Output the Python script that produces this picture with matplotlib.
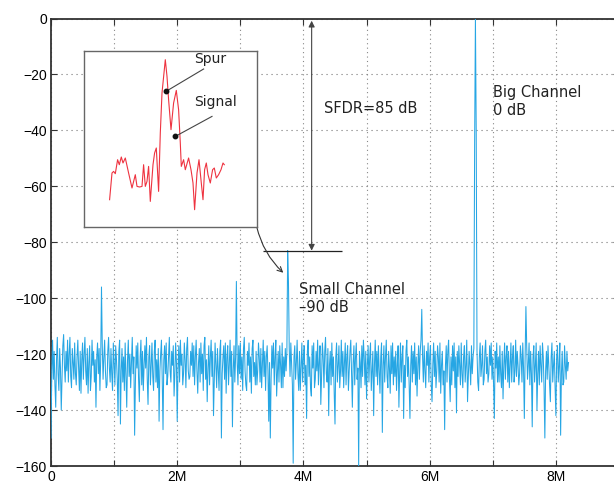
import numpy as np
import matplotlib
matplotlib.use("Agg")
import matplotlib.pyplot as plt
from matplotlib.ticker import MultipleLocator, FuncFormatter

# ---------------- data ----------------
freq_step_hz = 12.5e3
spectrum_db = [
    -150, -126, -115, -129, -119, -131, -139, -122, -114, -127, -133, -118, -125, -140, -128, -117, -113, -124, -130, -119,
    -126, -115, -130, -120, -114, -128, -132, -118, -123, -129, -116, -127, -131, -121, -115, -125, -133, -119, -134, -122,
    -116, -129, -120, -114, -126, -131, -118, -134, -123, -117, -133, -128, -115, -124, -119, -130, -122, -139, -121, -116,
    -127, -118, -133, -122, -96, -117, -129, -121, -115, -126, -132, -131, -119, -114, -125, -130, -118, -127, -133, -116,
    -124, -131, -117, -122, -129, -142, -119, -115, -145, -126, -118, -130, -121, -133, -116, -127, -139, -122, -115, -128,
    -120, -132, -123, -114, -127, -121, -149, -130, -117, -125, -116, -129, -137, -121, -115, -131, -119, -133, -124, -117,
    -125, -114, -129, -138, -121, -117, -131, -124, -116, -128, -133, -119, -115, -130, -122, -132, -118, -144, -126, -120,
    -115, -129, -147, -122, -117, -127, -116, -131, -128, -121, -114, -126, -130, -119, -124, -117, -135, -127, -116, -123,
    -144, -125, -117, -130, -115, -124, -120, -131, -127, -116, -122, -132, -118, -114, -126, -129, -128, -119, -124, -116,
    -128, -117, -131, -121, -115, -126, -134, -123, -118, -130, -116, -127, -120, -133, -117, -114, -129, -122, -137, -125,
    -117, -131, -121, -115, -128, -119, -142, -129, -116, -124, -132, -118, -126, -133, -119, -115, -150, -127, -121, -117,
    -129, -116, -134, -121, -117, -131, -124, -115, -128, -119, -146, -126, -117, -130, -121, -94, -123, -131, -117, -127,
    -116, -129, -121, -133, -118, -114, -126, -131, -133, -119, -124, -116, -130, -121, -134, -118, -115, -128, -123, -131,
    -119, -131, -126, -116, -121, -130, -118, -132, -124, -115, -128, -119, -133, -121, -117, -126, -144, -123, -150, -129,
    -117, -125, -116, -131, -121, -115, -135, -127, -119, -130, -117, -124, -132, -116, -132, -121, -128, -118, -126, -119,
    -83, -94, -118, -128, -116, -124, -131, -159, -121, -117, -129, -123, -115, -127, -133, -119, -133, -124, -116, -130,
    -121, -117, -131, -124, -143, -119, -115, -128, -121, -132, -135, -117, -125, -116, -132, -129, -119, -126, -115, -131,
    -123, -117, -138, -128, -116, -121, -132, -119, -114, -127, -130, -118, -142, -124, -119, -131, -116, -128, -121, -134,
    -145, -121, -116, -130, -124, -117, -132, -126, -115, -128, -119, -132, -123, -116, -131, -121, -117, -133, -126, -119,
    -115, -127, -139, -123, -117, -131, -121, -116, -129, -125, -160, -119, -123, -132, -117, -128, -115, -121, -131, -119,
    -136, -124, -117, -130, -121, -116, -133, -126, -119, -142, -124, -115, -128, -119, -131, -117, -126, -134, -121, -116,
    -148, -124, -117, -130, -121, -115, -128, -132, -119, -125, -134, -117, -127, -116, -131, -121, -128, -119, -133, -124,
    -117, -139, -126, -116, -130, -121, -117, -143, -124, -132, -119, -115, -128, -121, -131, -143, -124, -117, -130, -119,
    -127, -116, -131, -121, -135, -124, -117, -129, -119, -115, -104, -121, -130, -117, -126, -132, -119, -124, -116, -130,
    -121, -117, -131, -137, -124, -116, -128, -119, -132, -126, -117, -121, -130, -116, -134, -124, -119, -131, -126, -147,
    -124, -117, -130, -119, -115, -128, -137, -121, -131, -117, -126, -116, -132, -121, -141, -119, -128, -117, -124, -131,
    -116, -127, -132, -121, -117, -130, -124, -115, -137, -128, -119, -124, -131, -117, -127, -121, -118, -45, 0, -40,
    -119, -130, -133, -121, -116, -128, -124, -117, -131, -129, -119, -115, -127, -121, -130, -127, -117, -124, -116, -129,
    -121, -131, -143, -119, -125, -116, -130, -121, -130, -117, -127, -132, -119, -136, -124, -116, -129, -121, -117, -130,
    -119, -132, -124, -116, -130, -121, -117, -130, -126, -115, -128, -119, -124, -131, -127, -117, -121, -130, -116, -125,
    -143, -121, -103, -117, -129, -124, -116, -131, -119, -127, -146, -121, -117, -130, -124, -116, -140, -127, -119, -131,
    -117, -124, -130, -116, -121, -132, -150, -126, -119, -129, -117, -124, -131, -137, -121, -116, -130, -124, -119, -132,
    -142, -121, -117, -130, -124, -116, -149, -127, -119, -131, -130, -117, -124, -129, -119, -126, -123,
]
freq_hz = np.arange(len(spectrum_db)) * freq_step_hz

# inset (zoomed view of spur + signal), arbitrary units
inset_x = [25.3, 27.7, 29.3, 31, 33.3, 35, 37, 38.7, 41, 44.3, 47.7, 51, 52.7, 55.3,
           57.7, 59.3, 61, 62.7, 64.3, 66, 68.7, 70.3, 72, 74.3, 76, 77.7, 81, 82.7,
           84.3, 86.7, 89.3, 92, 94.3, 96, 97, 99.3, 101, 104.3, 106.7, 108.7, 110.3,
           112.7, 114.7, 117, 118.7, 120.3, 122, 123.7, 126, 128.3, 130, 132, 134.3,
           136.7, 138.7, 140]
inset_level = [-149, -122.3, -120.7, -123, -109, -114, -106.3, -112.3, -107.3, -122.3,
               -137.3, -124, -135.7, -136.3, -135.7, -114, -135.7, -130.7, -115.7, -150.7,
               -114, -102.3, -97.3, -140.7, -82.3, -42.3, -9, -25.7, -49, -79, -52.3,
               -39.7, -59, -92.3, -115.7, -109, -119, -107.3, -119, -132.3, -159, -122.3,
               -109, -132.3, -149, -119, -112.3, -124, -132.3, -119, -117.3, -127.3, -124,
               -119, -112.3, -114]

x_ticks_hz = [0, 2e6, 4e6, 6e6, 8e6]
x_tick_labels = ["0", "2M", "4M", "6M", "8M"]

big_channel_db = 0
small_channel_db = -83
sfdr_x_hz = 4.13e6

# ---------------- figure ----------------
fig = plt.figure(figsize=(6.14, 4.84), dpi=100)
ax = fig.add_axes([51 / 614, 1 - 466 / 484, (619 - 51) / 614, (466 - 18.5) / 484])

ax.plot(freq_hz, spectrum_db, color="#26a6e4", lw=0.75, zorder=3)

ax.set_xlim(0, 9e6)
ax.set_ylim(-160, 0)
ax.set_xticks(x_ticks_hz)
ax.set_xticklabels(x_tick_labels)
ax.xaxis.set_minor_locator(MultipleLocator(1e6))
ax.yaxis.set_major_locator(MultipleLocator(20))
ax.yaxis.set_major_formatter(FuncFormatter(lambda v, p: f"{int(v)}".replace("-", "\u2212")))

ax.grid(which="both", axis="x", linestyle=(0, (1, 3)), color="#888888", lw=0.8)
ax.grid(which="major", axis="y", linestyle=(0, (1, 3.5)), color="#777777", lw=0.8)
ax.set_axisbelow(True)

ax.tick_params(which="both", direction="in", top=True, right=True, length=4,
               width=0.8, color="#333333", labelsize=10, pad=3)
for lab in ax.get_xticklabels() + ax.get_yticklabels():
    lab.set_fontfamily("Liberation Sans")
for sp in ax.spines.values():
    sp.set_color("#333333")
    sp.set_linewidth(1.3)

# SFDR marker line + double arrow
ax.hlines(small_channel_db, 3.355e6, 4.607e6, color="#222222", lw=0.9, zorder=4)
ax.annotate("", xy=(sfdr_x_hz, big_channel_db - 0.8), xytext=(sfdr_x_hz, small_channel_db),
            arrowprops=dict(arrowstyle="<|-|>", color="#444444", lw=0.8,
                            mutation_scale=9, shrinkA=0, shrinkB=0), zorder=4)

txt_kw = dict(fontsize=10.5, family="DejaVu Sans", color="#222222", zorder=5)
ax.text(4.33e6, -32.3, "SFDR=85 dB", ha="left", va="center", **txt_kw)
ax.text(7.0e6, -29.8, "Big Channel\n0 dB", ha="left", va="center", linespacing=1.25, **txt_kw)
ax.text(3.93e6, -100.2, "Small Channel\n\u201390 dB", ha="left", va="center",
        linespacing=1.25, **txt_kw)

# arrow from inset to small channel
ax.annotate("", xy=(3.68e6, -90.9), xytext=(3.26e6, -74.5),
            arrowprops=dict(arrowstyle="->", color="#333333", lw=0.8,
                            connectionstyle="arc3,rad=0.15", shrinkA=0, shrinkB=0,
                            mutation_scale=9), zorder=4)

# ---------------- inset ----------------
ins = fig.add_axes([84.3 / 614, 1 - 227 / 484, 172.4 / 614, 176.3 / 484], zorder=5)
ins.set_facecolor("white")
ins.plot(inset_x, inset_level, color="#ee3340", lw=0.8)
ins.set_xlim(0, 172.4)
ins.set_ylim(-176.3, 0)
ins.set_xticks([])
ins.set_yticks([])
for sp in ins.spines.values():
    sp.set_color("#666666")
    sp.set_linewidth(1.0)

ins.plot([81.7, 119.3], [-40.7, -18.3], color="#444444", lw=0.8)
ins.plot([91.0, 127.7], [-85.7, -65.7], color="#444444", lw=0.8)
ins.plot([81.7, 91.0], [-40.7, -85.7], "o", color="#111111", ms=3.2, ls="none")
ins.text(126, -8, "Spur", ha="center", va="center", fontsize=10, family="DejaVu Sans",
         color="#222222")
ins.text(131, -51, "Signal", ha="center", va="center", fontsize=10, family="DejaVu Sans",
         color="#222222")

fig.savefig("out.png", dpi=100)
